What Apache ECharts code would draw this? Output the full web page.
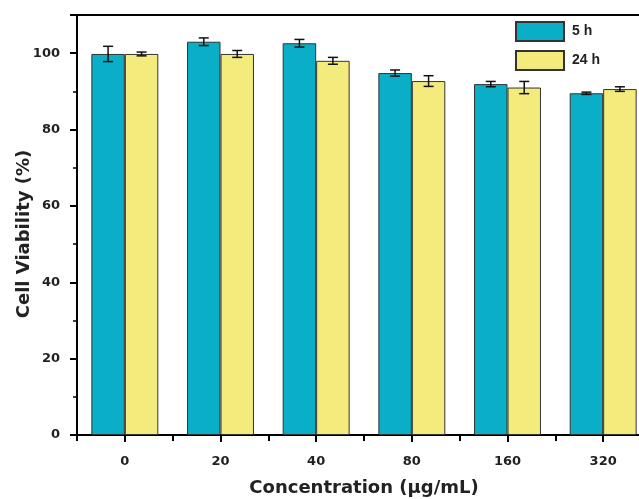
<!DOCTYPE html>
<html><head><meta charset="utf-8">
<script src="https://cdn.jsdelivr.net/npm/echarts@6/dist/echarts.min.js"></script>
<style>html,body{margin:0;padding:0;background:#fff}#c{width:639px;height:499px}</style>
</head><body><div id="c"></div>
<script>
const categories = ['0','20','40','80','160','320'];
const seriesNames = ['5 h','24 h'];
const values5h = [99.8, 103.0, 102.6, 94.8, 91.9, 89.5];
const err5h = [2.0, 1.0, 1.0, 0.8, 0.7, 0.3];
const values24h = [99.8, 99.8, 98.0, 92.7, 91.0, 90.6];
const err24h = [0.5, 0.9, 0.9, 1.4, 1.6, 0.6];
const yTicks = [0, 20, 40, 60, 80, 100];

const chart = echarts.init(document.getElementById('c'));
const FONT = 'Liberation Sans';
const WFONT = 'DejaVu Sans';
const BW = 0.35;
function errSeries(vals, errs, side) {
  return {
    type: 'custom', xAxisIndex: 0, yAxisIndex: 0, z: 10,
    data: vals.map((v, i) => [i, v - errs[i], v + errs[i]]),
    renderItem: function (params, api) {
      const band = api.size([1, 0])[0];
      const off = side * band * BW / 2;
      const lo = api.coord([api.value(0), api.value(1)]);
      const hi = api.coord([api.value(0), api.value(2)]);
      const x = lo[0] + off, cap = 5;
      const st = { stroke: '#111', lineWidth: 1.5 };
      return { type: 'group', children: [
        { type: 'line', shape: { x1: x, y1: lo[1], x2: x, y2: hi[1] }, style: st },
        { type: 'line', shape: { x1: x - cap, y1: lo[1], x2: x + cap, y2: lo[1] }, style: st },
        { type: 'line', shape: { x1: x - cap, y1: hi[1], x2: x + cap, y2: hi[1] }, style: st }
      ]};
    },
    tooltip: { show: false }
  };
}
chart.setOption({
  animation: false,
  grid: { left: 77, top: 15, width: 574, height: 420, show: true, borderColor: '#000', borderWidth: 2,
    backgroundColor: 'transparent', outerBoundsMode: 'none', containLabel: false },
  legend: {
    data: seriesNames, orient: 'vertical', left: 510, top: 16,
    icon: 'rect', itemWidth: 48, itemHeight: 19, itemGap: 8,
    textStyle: { fontFamily: FONT, fontWeight: 'bold', fontSize: 14, color: '#222', padding: [0,0,0,3] }
  },
  xAxis: [{
    type: 'category', data: categories, boundaryGap: true,
    name: 'Concentration (μg/mL)', nameLocation: 'middle', nameGap: 44, nameMoveOverlap: false,
    nameTextStyle: { fontFamily: WFONT, fontWeight: 'bold', fontSize: 18, color: '#222' },
    axisLine: { lineStyle: { color: '#000', width: 2 } },
    axisTick: { show: true, alignWithLabel: false, length: 6, lineStyle: { color: '#000', width: 2 } },
    axisLabel: { fontFamily: WFONT, fontWeight: 'bold', fontSize: 13, color: '#222', margin: 20 }
  }, {
    type: 'category', data: categories, position: 'bottom', boundaryGap: true,
    axisLine: { show: false },
    axisTick: { show: true, alignWithLabel: true, length: 7, lineStyle: { color: '#000', width: 2 } },
    axisLabel: { show: false }
  }],
  yAxis: {
    type: 'value', min: 0, max: 110, interval: 20,
    name: 'Cell Viability (%)', nameLocation: 'middle', nameGap: 44, nameMoveOverlap: false,
    nameTextStyle: { fontFamily: WFONT, fontWeight: 'bold', fontSize: 18, color: '#222', padding: [0, 18, 0, 0] },
    axisLine: { show: true, lineStyle: { color: '#000', width: 2 } },
    axisTick: { show: true, length: 7, lineStyle: { color: '#000', width: 2 } },
    minorTick: { show: true, splitNumber: 2, length: 4, lineStyle: { color: '#000', width: 1.5 } },
    splitLine: { show: false },
    axisLabel: { fontFamily: WFONT, fontWeight: 'bold', fontSize: 13, color: '#222', margin: 17,
      formatter: v => yTicks.includes(v) ? String(v) : '' }
  },
  series: [
    { name: seriesNames[0], type: 'bar', data: values5h, barWidth: (BW*100)+'%', barGap: '0%',
      itemStyle: { color: '#0AAFC7', borderColor: '#333', borderWidth: 1 } },
    { name: seriesNames[1], type: 'bar', data: values24h, barWidth: (BW*100)+'%', barGap: '0%',
      itemStyle: { color: '#F3EC7C', borderColor: '#333', borderWidth: 1 } },
    errSeries(values5h, err5h, -1),
    errSeries(values24h, err24h, 1)
  ]
});
</script></body></html>
